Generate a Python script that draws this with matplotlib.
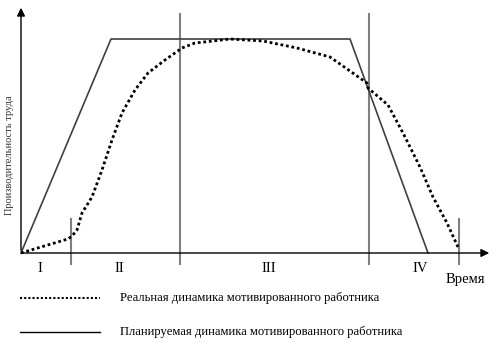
import numpy as np
import matplotlib.pyplot as plt

# pixel-like units: x = time from origin, y = productivity above axis
plan_x = [0, 90, 329, 407]
plan_y = [0, 214, 214, 0]

real_x = [0, 20, 47, 51, 56, 61, 71, 81, 91, 101, 114, 127, 144, 161, 174, 192, 209,
          242, 276, 309, 346, 347, 367, 382, 399, 412, 426, 437]
real_y = [0, 6, 14, 17, 23, 40, 56, 83, 113, 140, 163, 180, 193, 205, 210, 212, 214,
          212, 205, 196, 170, 165, 148, 120, 86, 56, 30, 6]

bounds_x = [50, 159, 348, 438]
bounds_lo = [-11, -11, -11, -11]
bounds_hi = [34, 239, 239, 34]

stage_labels = ['I', 'II', 'III', 'IV']
stage_x = [19, 98, 248, 399]

plt.rcParams['font.family'] = ['Liberation Serif', 'DejaVu Serif']

fig = plt.figure(figsize=(5.01, 3.49), dpi=100)
ax = fig.add_axes([0, 0, 1, 1])
ax.set_xlim(-21, 480)
ax.set_ylim(-96, 253)
ax.axis('off')

# axes with arrows
ax.annotate('', xy=(0, 248), xytext=(0, 0),
            arrowprops=dict(arrowstyle='-|>', color='black', lw=1, mutation_scale=12))
ax.annotate('', xy=(471, 0), xytext=(0, 0),
            arrowprops=dict(arrowstyle='-|>', color='black', lw=1, mutation_scale=12))

for bx, lo, hi in zip(bounds_x, bounds_lo, bounds_hi):
    ax.plot([bx, bx], [lo, hi], color='#808080', lw=1.5)

ax.plot(plan_x, plan_y, color='#404040', lw=1.2)
ax.plot(real_x, real_y, color='black', lw=2, linestyle=(0, (1, 1)))

for lab, sx in zip(stage_labels, stage_x):
    ax.text(sx, -15, lab, ha='center', va='center', fontsize=10.5)
ax.text(444, -26, 'Время', ha='center', va='center', fontsize=10.5)

ax.text(-11, 98, 'Производительность труда', rotation=90, ha='center', va='center',
        fontsize=7.5, color='#333333')

# legend
ax.plot([-1, 79], [-45, -45], color='black', lw=1.5, linestyle=(0, (1, 1)))
ax.text(99, -45, 'Реальная динамика мотивированного работника', ha='left', va='center', fontsize=9.1)
ax.plot([-1, 79], [-79, -79], color='black', lw=1)
ax.text(99, -79, 'Планируемая динамика мотивированного работника', ha='left', va='center', fontsize=9.1)

fig.savefig('out.png', dpi=100)
